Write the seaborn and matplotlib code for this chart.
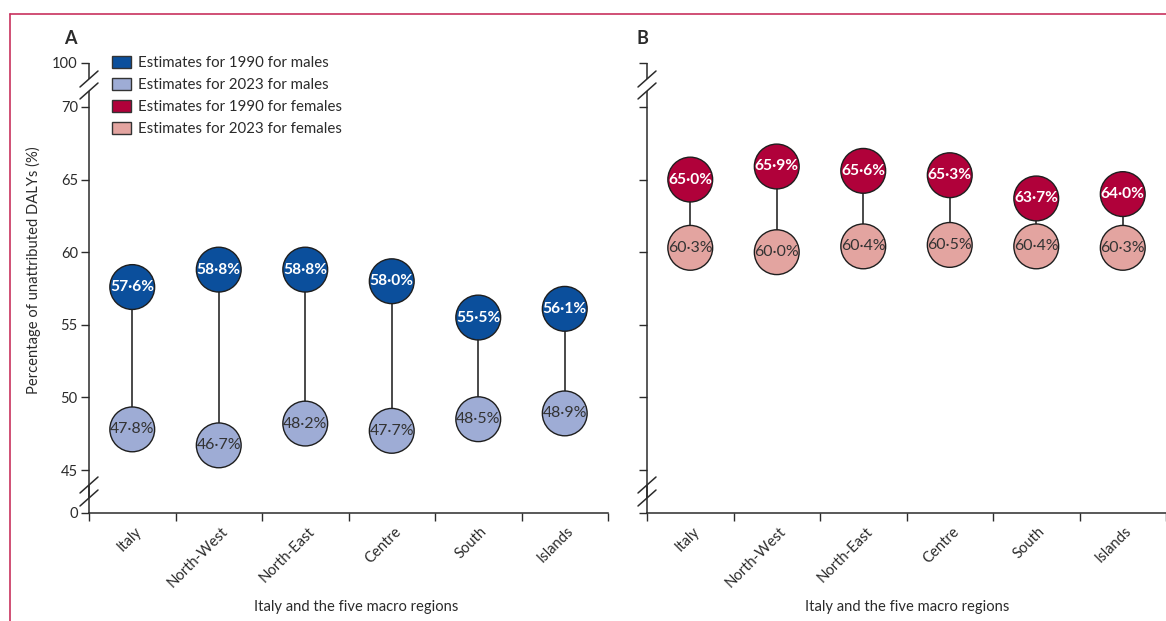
import numpy as np
import pandas as pd
import seaborn as sns
import matplotlib
matplotlib.use("Agg")
import matplotlib.pyplot as plt
from matplotlib.patches import Patch
from matplotlib.lines import Line2D
import matplotlib.transforms as mtransforms

# Regions and estimates (% of DALYs not attributable to risk factors)
regions = ["Italy", "North-West", "North-East", "Centre", "South", "Islands"]
males_1990 = [57.6, 58.8, 58.8, 58.0, 55.5, 56.1]
males_2023 = [47.8, 46.7, 48.2, 47.7, 48.5, 48.9]
females_1990 = [65.0, 65.9, 65.6, 65.3, 63.7, 64.0]
females_2023 = [60.3, 60.0, 60.4, 60.5, 60.4, 60.3]

ytick_values = [45, 50, 55, 60, 65, 70]
ytick_labels = ["45", "50", "55", "60", "65", "70"]

legend_labels = ["Estimates for 1990 for males", "Estimates for 2023 for males",
                 "Estimates for 1990 for females", "Estimates for 2023 for females"]

blue_dark = "#0b4f9c"
blue_light = "#9eacd5"
red_dark = "#b0013a"
red_light = "#e3a4a0"
ink = "#2b2b2b"
frame_red = "#c8315e"

sns.set_theme(style="white")
plt.rcParams["font.family"] = ["Lato", "DejaVu Sans"]
plt.rcParams["axes.edgecolor"] = ink
plt.rcParams["text.color"] = ink
plt.rcParams["xtick.color"] = ink
plt.rcParams["ytick.color"] = ink

W, H = 1166, 621
fig = plt.figure(figsize=(W / 100, H / 100), dpi=100)

# axes placement (pixels)
ax_w, ax_h = 519, 450
bottom_px = 513
axA = fig.add_axes([89 / W, (H - bottom_px) / H, ax_w / W, ax_h / H])
axB = fig.add_axes([647 / W, (H - bottom_px) / H, ax_w / W, ax_h / H])

# broken y axis: 0 sits just under 45, 100 just above 70
px_per_unit = 72.7 / 5
y_lo = 45 - 43 / px_per_unit
y_hi = 70 + 44 / px_per_unit


def make_frame(vals_1990, vals_2023):
    return pd.DataFrame({
        "region": regions * 2,
        "year": ["1990"] * len(regions) + ["2023"] * len(regions),
        "value": list(vals_1990) + list(vals_2023),
    })


def draw_panel(ax, v1990, v2023, c1990, c2023, show_labels):
    df = make_frame(v1990, v2023)
    xs = np.arange(len(regions))
    ax.vlines(xs, v2023, v1990, color="#3a3a3a", lw=1.3, zorder=1)
    sns.scatterplot(data=df, x="region", y="value", hue="year",
                    palette={"1990": c1990, "2023": c2023}, s=1040,
                    edgecolor="#1e1e1e", linewidth=1.0, legend=False,
                    zorder=3, ax=ax)
    for i, (a, b) in enumerate(zip(v1990, v2023)):
        ax.text(i, a, f"{a:.1f}%".replace(".", "·"), ha="center", va="center",
                color="white", fontsize=11.2, fontweight="bold", zorder=4)
        ax.text(i, b, f"{b:.1f}%".replace(".", "·"), ha="center", va="center",
                color="#333333", fontsize=11.4, zorder=4)

    ax.set_xlim(-0.5, len(regions) - 0.5)
    ax.set_ylim(y_lo, y_hi)
    ax.set_xlabel("")
    ax.set_ylabel("")

    # category labels at centres, tick marks at boundaries
    ax.set_xticks(xs)
    ax.set_xticklabels(regions, rotation=45, ha="right", va="top",
                       rotation_mode="anchor", fontsize=10.6)
    ax.tick_params(axis="x", which="major", length=0, pad=8)
    ax.set_xticks(np.arange(len(regions) + 1) - 0.5, minor=True)
    ax.tick_params(axis="x", which="minor", length=6, width=1.0,
                   direction="out", bottom=True)
    offset = mtransforms.ScaledTranslation(2 / 100, 0, fig.dpi_scale_trans)
    for lab in ax.get_xticklabels():
        lab.set_transform(lab.get_transform() + offset)

    ax.set_yticks([y_lo] + ytick_values + [y_hi])
    if show_labels:
        ax.set_yticklabels(["0"] + ytick_labels + ["100"], fontsize=10.6)
    else:
        ax.set_yticklabels([])
    ax.tick_params(axis="y", length=6, width=1.0, direction="out", left=True, pad=2)

    for side in ["top", "right", "left"]:
        ax.spines[side].set_visible(False)
    ax.spines["bottom"].set_linewidth(1.1)

    # left spine drawn in pieces with break marks
    fy = lambda py: (bottom_px - py) / ax_h
    segs = [(fy(513), fy(485)), (fy(498), fy(91)), (fy(79), fy(63))]
    for y0, y1 in segs:
        ax.plot([0, 0], [y0, y1], transform=ax.transAxes, color=ink, lw=1.1,
                clip_on=False, solid_capstyle="butt")
    dx, dy = 9 / ax_w, 8 / ax_h
    for py in [485, 498, 79, 91]:
        yc = fy(py)
        ax.plot([-dx, dx], [yc - dy, yc + dy], transform=ax.transAxes,
                color=ink, lw=1.1, clip_on=False)


draw_panel(axA, males_1990, males_2023, blue_dark, blue_light, True)
draw_panel(axB, females_1990, females_2023, red_dark, red_light, False)

# legend
handles = [Patch(facecolor=c, edgecolor="#333333", linewidth=1.0)
           for c in [blue_dark, blue_light, red_dark, red_light]]
fig.legend(handles, legend_labels, loc="upper left",
           bbox_to_anchor=(112 / W, 1 - 56 / H), frameon=False, fontsize=10.8,
           handlelength=1.25, handleheight=0.9, handletextpad=0.5,
           labelspacing=0.5, borderaxespad=0, borderpad=0)

# titles and axis labels
fig.text(70 / W, 1 - 38 / H, "A", fontsize=13, fontweight="bold", ha="center", va="center")
fig.text(642 / W, 1 - 38 / H, "B", fontsize=13, fontweight="bold", ha="center", va="center")
fig.text(33 / W, 1 - 270 / H, "Percentage of unattributed DALYs (%)", rotation=90,
         ha="center", va="center", fontsize=10.6)
fig.text(356 / W, 1 - 607 / H, "Italy and the five macro regions",
         ha="center", va="center", fontsize=10.6)
fig.text(907 / W, 1 - 607 / H, "Italy and the five macro regions",
         ha="center", va="center", fontsize=10.6)

# outer frame rule
fig.add_artist(Line2D([10 / W, 10 / W], [0, 1 - 14 / H], color=frame_red, lw=1.2,
                      transform=fig.transFigure))
fig.add_artist(Line2D([10 / W, 1], [1 - 14 / H, 1 - 14 / H], color=frame_red, lw=1.2,
                      transform=fig.transFigure))

fig.savefig("out.png", dpi=100)
